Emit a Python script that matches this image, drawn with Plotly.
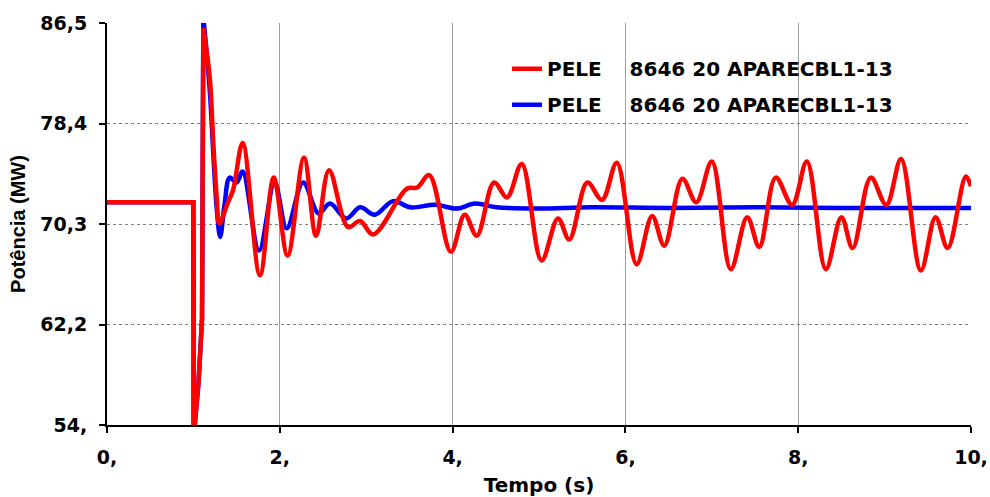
import plotly.graph_objects as go

# Active power at bus 8646 (PELE, circuit 20 APARECBL1-13), two simulation cases
t_red = [0.0, 1.0, 1.003, 1.02, 1.06, 1.10, 1.105, 1.115,
         1.19, 1.23, 1.27, 1.30, 1.40, 1.46, 1.57, 1.77, 1.93, 2.09, 2.28, 2.42,
         2.57, 2.79, 2.93, 3.08, 3.47, 3.59, 3.73, 3.98, 4.14, 4.28, 4.48, 4.63,
         4.80, 5.03, 5.22, 5.35, 5.56, 5.73, 5.90, 6.13, 6.31, 6.45, 6.66, 6.82,
         7.00, 7.22, 7.41, 7.55, 7.74, 7.93, 8.10, 8.32, 8.50, 8.63, 8.84, 9.02,
         9.19, 9.42, 9.59, 9.73, 9.94, 10.0]
p_red = [72.0, 72.0, 53.0, 54.2, 57.5, 62.6, 81.7, 86.1,
         82.0, 76.8, 72.4, 70.3, 72.0, 73.0, 76.8, 66.1, 74.0, 67.7, 75.6, 69.3,
         74.6, 70.0, 70.5, 69.4, 73.1, 73.2, 74.2, 68.0, 71.0, 69.3, 73.6, 72.4,
         75.1, 67.3, 70.7, 69.0, 73.6, 72.2, 75.2, 67.0, 70.9, 68.5, 73.9, 72.0,
         75.3, 66.6, 70.8, 68.4, 74.0, 71.8, 75.3, 66.6, 70.8, 68.3, 74.0, 71.8,
         75.5, 66.5, 70.8, 68.3, 74.1, 73.3]

t_blue = [0.0, 1.0, 1.003, 1.02, 1.06, 1.10, 1.105, 1.115,
          1.19, 1.23, 1.27, 1.31, 1.36, 1.42, 1.50, 1.57, 1.76, 1.94, 2.08, 2.27,
          2.45, 2.58, 2.77, 2.93, 3.10, 3.31, 3.51, 3.80, 4.05, 4.26, 4.51, 4.98,
          5.60, 6.50, 7.50, 8.50, 10.0]
p_blue = [72.0, 72.0, 53.0, 54.2, 57.5, 62.6, 82.0, 87.0,
          81.0, 76.0, 71.5, 69.2, 71.8, 74.0, 73.6, 74.5, 68.1, 73.6, 69.9, 73.6,
          71.1, 71.9, 70.7, 71.6, 71.0, 72.1, 71.6, 71.8, 71.5, 71.9, 71.6, 71.5,
          71.6, 71.55, 71.6, 71.55, 71.55]

series_name = "PELE\u00a0\u00a0\u00a0\u00a08646 20 APARECBL1-13"

y_ticks = [54.0, 62.125, 70.25, 78.375, 86.5]
y_ticktext = ["54,", "62,2", "70,3", "78,4", "86,5"]
x_ticks = [0, 2, 4, 6, 8, 10]
x_ticktext = ["0,", "2,", "4,", "6,", "8,", "10,"]

# the fault step is drawn with straight segments, the swings as a smooth curve
SWING_START = 1.115

H_FONT = "DejaVu Sans"
V_FONT = "Liberation Sans"


def split_at(t, p, t0):
    i = next(k for k, v in enumerate(t) if v >= t0)
    return (t[:i + 1], p[:i + 1]), (t[i:], p[i:])


fig = go.Figure()

for t, p, color, group, rank in [(t_blue, p_blue, "#0000FF", "b", 2),
                                 (t_red, p_red, "#FF0000", "r", 1)]:
    (ts, ps), (tw, pw) = split_at(t, p, SWING_START)
    fig.add_trace(go.Scatter(
        x=ts, y=ps, mode="lines", line=dict(color=color, width=4.5),
        legendgroup=group, showlegend=False, hoverinfo="skip"))
    fig.add_trace(go.Scatter(
        x=tw, y=pw, mode="lines", name=series_name,
        line=dict(color=color, width=4.5, shape="spline", smoothing=1.0),
        legendgroup=group, legendrank=rank))

fig.update_layout(
    width=990, height=497,
    margin=dict(l=107, r=19, t=23, b=72),
    paper_bgcolor="white", plot_bgcolor="white",
    font=dict(family=H_FONT, size=19, color="black"),
    legend=dict(
        x=0.463, y=0.935, xanchor="left", yanchor="top",
        bgcolor="rgba(0,0,0,0)",
        font=dict(family=H_FONT, size=20, color="black", weight="bold"),
        traceorder="grouped", tracegroupgap=7,
        itemwidth=30,
    ),
    showlegend=True,
)

fig.update_xaxes(
    range=[0, 10], tickvals=x_ticks, ticktext=x_ticktext,
    automargin=False,
    showline=True, linecolor="black", linewidth=2,
    ticks="outside", ticklen=6, tickcolor="black", tickwidth=1.5,
    ticklabelstandoff=8,
    showgrid=True, gridcolor="#a0a0a0", gridwidth=1,
    zeroline=False,
    tickfont=dict(family=H_FONT, size=19, color="black", weight="bold"),
    title=dict(text="Tempo (s)", standoff=14,
               font=dict(family=H_FONT, size=20, color="black", weight="bold")),
)
fig.update_yaxes(
    range=[54, 86.5], tickvals=y_ticks, ticktext=y_ticktext,
    automargin=False,
    showline=True, linecolor="black", linewidth=2,
    ticks="outside", ticklen=6, tickcolor="black", tickwidth=1.5,
    ticklabelstandoff=8,
    showgrid=True, gridcolor="#808080", gridwidth=1, griddash="dot",
    zeroline=False,
    tickfont=dict(family=H_FONT, size=19, color="black", weight="bold"),
    title=dict(text="Potência (MW)", standoff=9,
               font=dict(family=V_FONT, size=20, color="black", weight="bold")),
)

fig.write_html("out.html")
